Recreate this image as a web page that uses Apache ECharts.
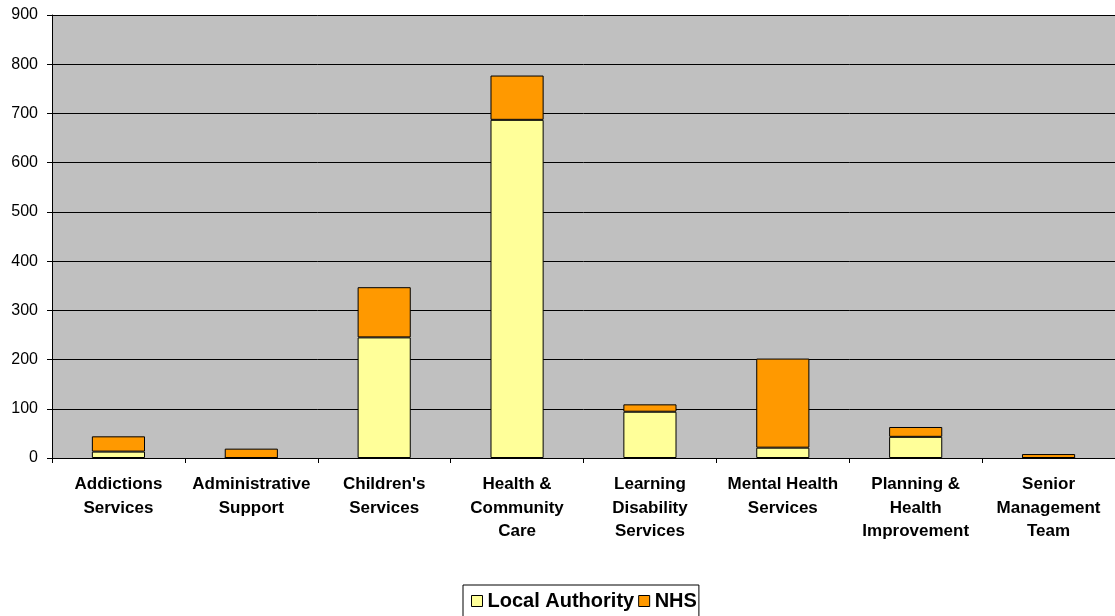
<!DOCTYPE html>
<html lang="en">
<head>
  <meta charset="UTF-8">
  <title>Staff by service</title>
  <style>
    html, body { margin: 0; padding: 0; background: #fff; }
  </style>
</head>
<body>
  <div id="main" style="width: 1115px;height:616px;"></div>
  <script src="https://cdn.jsdelivr.net/npm/echarts@6/dist/echarts.min.js"></script>
  <script type="text/javascript">
    // data
    var categories = ['Addictions\nServices', 'Administrative\nSupport', "Children's\nServices",
      'Health &\nCommunity\nCare', 'Learning\nDisability\nServices', 'Mental Health\nServices',
      'Planning &\nHealth\nImprovement', 'Senior\nManagement\nTeam'];
    var localAuthority = [13, 0, 245, 687, 94, 21, 43, 0];
    var nhs = [31, 19, 102, 90, 15, 181, 20, 8];
    var yTicks = [0, 100, 200, 300, 400, 500, 600, 700, 800, 900];

    var myChart = echarts.init(document.getElementById('main'));

    var option = {
      backgroundColor: '#ffffff',
      animation: false,
      textStyle: { fontFamily: 'Liberation Sans, Arial, sans-serif' },
      grid: {
        left: 52,
        right: 0,
        top: 15,
        bottom: 158,
        show: true,
        backgroundColor: '#C0C0C0',
        borderWidth: 0
      },
      legend: {
        top: 585,
        left: 463,
        itemWidth: 11,
        itemHeight: 11,
        itemGap: 4,
        padding: [6, 2, 8, 8],
        borderColor: '#000',
        borderWidth: 1,
        icon: 'rect',
        textStyle: { fontSize: 20, fontWeight: 'bold', color: '#000' },
        data: [
          { name: 'Local Authority', itemStyle: { borderColor: '#000', borderWidth: 1 } },
          { name: 'NHS', itemStyle: { borderColor: '#000', borderWidth: 1 } }
        ]
      },
      xAxis: {
        type: 'category',
        data: categories,
        axisLine: { lineStyle: { color: '#000', width: 1 } },
        axisTick: { show: true, length: 5, lineStyle: { color: '#000' } },
        axisLabel: {
          interval: 0,
          color: '#000',
          fontSize: 17,
          fontWeight: 'bold',
          lineHeight: 23.5,
          margin: 15
        }
      },
      yAxis: {
        type: 'value',
        min: 0,
        max: 900,
        interval: 100,
        axisLine: { show: true, lineStyle: { color: '#000' } },
        axisTick: { show: true, length: 5, lineStyle: { color: '#000' } },
        axisLabel: {
          color: '#000',
          fontSize: 16,
          margin: 14,
          formatter: function (v) { return yTicks.indexOf(v) >= 0 ? String(v) : ''; }
        },
        splitLine: { show: true, lineStyle: { color: '#000', width: 1 } }
      },
      series: [
        {
          name: 'Local Authority',
          type: 'bar',
          stack: 'total',
          barWidth: '40%',
          data: localAuthority,
          itemStyle: { color: '#FFFF99', borderColor: '#000', borderWidth: 1 }
        },
        {
          name: 'NHS',
          type: 'bar',
          stack: 'total',
          barWidth: '40%',
          data: nhs,
          itemStyle: { color: '#FF9900', borderColor: '#000', borderWidth: 1 }
        }
      ]
    };

    myChart.setOption(option);
  </script>
</body>
</html>
